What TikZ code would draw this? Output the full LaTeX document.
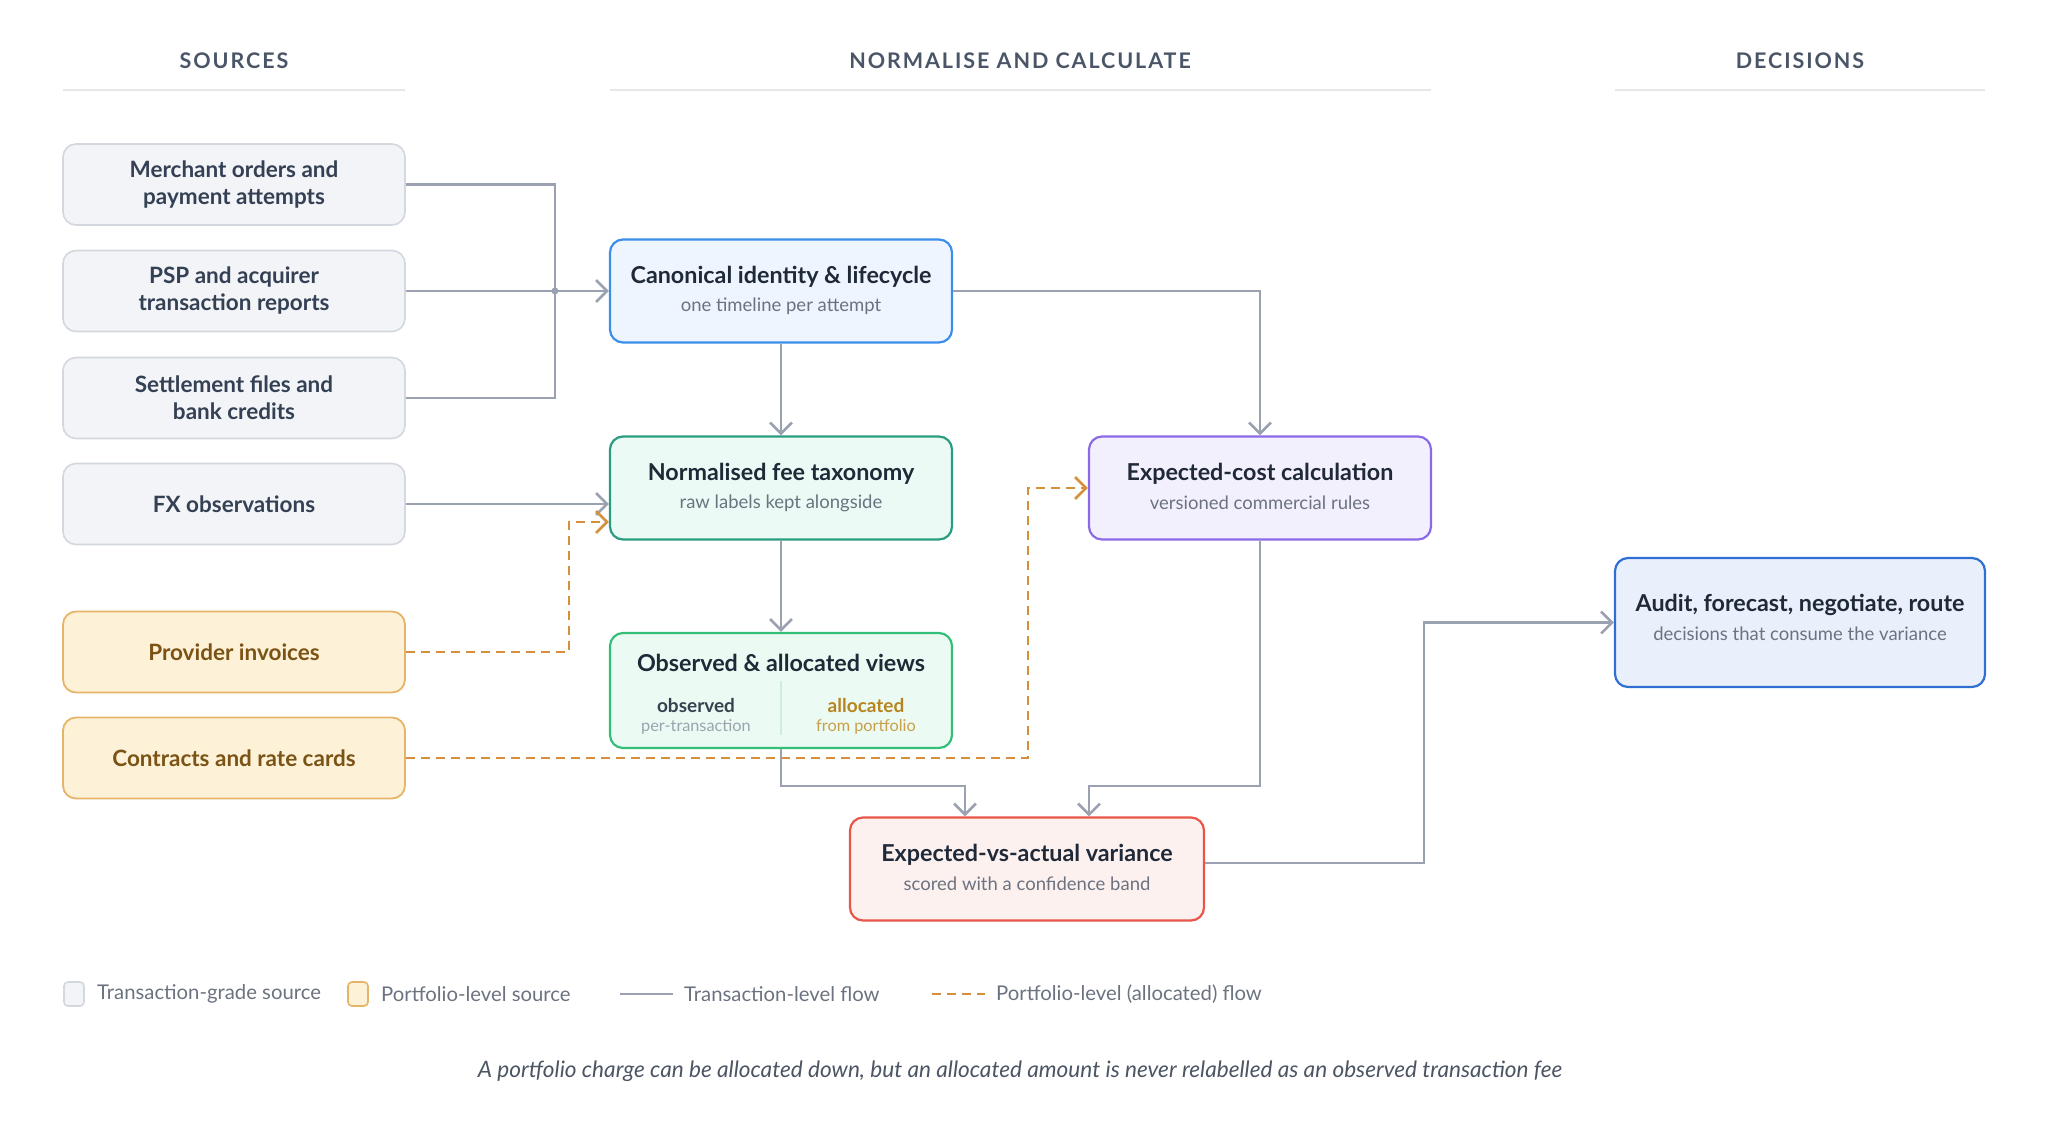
\documentclass[tikz,border=0pt]{standalone}
\usepackage{fontspec}
\setmainfont{Lato}
\usetikzlibrary{arrows.meta}
\definecolor{srcfill}{HTML}{F2F4F7}
\definecolor{srcdraw}{HTML}{D3D7DE}
\definecolor{srctext}{HTML}{344054}
\definecolor{pfill}{HTML}{FDF1D8}
\definecolor{pdraw}{HTML}{E5B468}
\definecolor{ptext}{HTML}{7A5315}
\definecolor{flowc}{HTML}{9AA1B1}
\definecolor{pflowc}{HTML}{D4903A}
\definecolor{ink}{HTML}{1F2937}
\definecolor{subc}{HTML}{6B7280}
\definecolor{headc}{HTML}{4A5568}
\definecolor{rulec}{HTML}{E5E7EB}
\definecolor{bluef}{HTML}{EEF5FF}\definecolor{blued}{HTML}{3B8EEA}
\definecolor{tealf}{HTML}{EBFAF5}\definecolor{teald}{HTML}{2A9D80}
\definecolor{greenf}{HTML}{EBFAF2}\definecolor{greend}{HTML}{34BF78}
\definecolor{purpf}{HTML}{F3F0FE}\definecolor{purpd}{HTML}{8B6AE6}
\definecolor{redf}{HTML}{FDF1F0}\definecolor{redd}{HTML}{E8554A}
\definecolor{audf}{HTML}{EAF0FB}\definecolor{audd}{HTML}{2F6FD4}
\definecolor{obsc}{HTML}{374151}\definecolor{obsl}{HTML}{9CA3AF}
\definecolor{allc}{HTML}{B7851F}\definecolor{alll}{HTML}{C9A04A}
\definecolor{footc}{HTML}{4B5563}
\newcommand{\mysrc}{\fontsize{22.5}{27}\selectfont\bfseries}
\newcommand{\myttl}{\fontsize{23.3}{27}\selectfont\bfseries}
\newcommand{\mysub}{\fontsize{18.5}{22}\selectfont}
\newcommand{\myhead}{\fontsize{21.5}{25}\selectfont\bfseries\addfontfeatures{LetterSpace=9}}
\newcommand{\myleg}{\fontsize{20.3}{24}\selectfont}
\tikzset{
  box/.style={rectangle, rounded corners=13pt, minimum width=342pt, minimum height=81pt, inner sep=0pt, align=center},
  srcbox/.style={box, fill=srcfill, draw=srcdraw, line width=1.6pt, text=srctext, font=\mysrc},
  pbox/.style={box, fill=pfill, draw=pdraw, line width=1.8pt, text=ptext, font=\mysrc},
  stage/.style={box, minimum height=103pt, line width=2.2pt},
  ttl/.style={inner sep=0pt, text=ink, font=\myttl},
  subt/.style={inner sep=0pt, text=subc, font=\mysub},
  head/.style={inner sep=0pt, text=headc, font=\myhead},
  hrule/.style={draw=rulec, line width=2pt},
  flowplain/.style={draw=flowc, line width=2.6pt},
  flow/.style={flowplain, -{Straight Barb[length=11pt,width=22pt]}},
  pflow/.style={draw=pflowc, line width=2.6pt, dash pattern=on 9pt off 6pt, -{Straight Barb[length=11pt,width=22pt]}},
  legt/.style={inner sep=0pt, anchor=west, text=subc, font=\myleg},
  legsq/.style={rectangle, rounded corners=4pt, minimum width=20pt, minimum height=24pt, inner sep=0pt, line width=1.6pt}
}
\begin{document}
\begin{tikzpicture}[x=1pt,y=-1pt]
\useasboundingbox (0,0) rectangle (2048,1128);
% headers
\node[head] (h1) at (234,61) {SOURCES};
\node[head] (h2) at (1020,61) {NORMALISE AND CALCULATE};
\node[head] (h3) at (1800,61) {DECISIONS};
\coordinate (r1a) at (63,90); \coordinate (r1b) at (405,90);
\coordinate (r2a) at (610,90); \coordinate (r2b) at (1431,90);
\coordinate (r3a) at (1615,90); \coordinate (r3b) at (1985,90);
\draw[hrule] (r1a) -- (r1b);
\draw[hrule] (r2a) -- (r2b);
\draw[hrule] (r3a) -- (r3b);
% sources
\node[srcbox] (merch) at (234,184.5) {Merchant orders and\\payment attempts};
\node[srcbox] (psp) at (234,291) {PSP and acquirer\\transaction reports};
\node[srcbox] (settle) at (234,398) {Settlement files and\\bank credits};
\node[srcbox] (fx) at (234,504) {FX observations};
\node[pbox] (prov) at (234,652) {Provider invoices};
\node[pbox] (contr) at (234,758) {Contracts and rate cards};
% stages
\node[stage, fill=bluef, draw=blued] (canon) at (781,291) {};
\node[ttl] (canon-t) at ([yshift=14pt]canon.center) {Canonical identity \& lifecycle};
\node[subt] (canon-s) at ([yshift=-15pt]canon.center) {one timeline per attempt};
\node[stage, fill=tealf, draw=teald] (norm) at (781,488) {};
\node[ttl] (norm-t) at ([yshift=14pt]norm.center) {Normalised fee taxonomy};
\node[subt] (norm-s) at ([yshift=-15pt]norm.center) {raw labels kept alongside};
\node[stage, fill=greenf, draw=greend, minimum height=115pt] (obs) at (781,690.5) {};
\node[ttl] (obs-t) at (781,663) {Observed \& allocated views};
\node[inner sep=0pt, text=obsc, font=\fontsize{19}{22}\selectfont\bfseries] (obs-a) at (696,706) {observed};
\node[inner sep=0pt, text=obsl, font=\fontsize{16.3}{19}\selectfont] (obs-b) at (696,727) {per-transaction};
\node[inner sep=0pt, text=allc, font=\fontsize{19}{22}\selectfont\bfseries] (all-a) at (866,706) {allocated};
\node[inner sep=0pt, text=alll, font=\fontsize{16.3}{19}\selectfont] (all-b) at (866,727) {from portfolio};
\coordinate (dv1) at (781,681); \coordinate (dv2) at (781,735);
\draw[draw=greend!25, line width=1.2pt] (dv1) -- (dv2);
\node[stage, fill=purpf, draw=purpd] (ecost) at (1260,488) {};
\node[ttl] (ecost-t) at ([yshift=14pt]ecost.center) {Expected-cost calculation};
\node[subt] (ecost-s) at ([yshift=-15pt]ecost.center) {versioned commercial rules};
\node[stage, fill=redf, draw=redd, minimum width=354pt] (var) at (1027,869) {};
\node[ttl] (var-t) at ([yshift=14pt]var.center) {Expected-vs-actual variance};
\node[subt] (var-s) at ([yshift=-15pt]var.center) {scored with a confidence band};
\node[stage, fill=audf, draw=audd, minimum width=370pt, minimum height=129pt] (aud) at (1800,622.5) {};
\node[ttl] (aud-t) at (1800,605) {Audit, forecast, negotiate, route};
\node[subt] (aud-s) at (1800,634) {decisions that consume the variance};
% connectors
\coordinate (junc) at (555,291);
\draw[flowplain] (merch.east) -| (junc);
\draw[flowplain] (settle.east) -| (junc);
\draw[flow] (psp.east) -- (canon.west);
\fill[flowc] (junc) circle (3.5pt);
\draw[flow] (fx.east) -- (fx.east -| norm.west);
\coordinate (p1) at (569,522);
\draw[pflow] (prov.east) -| (p1) -- (p1 -| norm.west);
\coordinate (c1) at (1028,488);
\draw[pflow] (contr.east) -| (c1) -- (ecost.west);
\draw[flow] (canon.east) -| (ecost.north);
\draw[flow] (canon.south) -- (norm.north);
\draw[flow] (norm.south) -- (obs.north);
\coordinate (v1) at (965,786);
\coordinate (v2) at (1089,786);
\draw[flow] (obs.south) |- (v1) -- (v1 |- var.north);
\draw[flow] (ecost.south) |- (v2) -- (v2 |- var.north);
\coordinate (a1) at (1424,622.5);
\coordinate (a0) at ([yshift=6pt]var.east);
\draw[flow] (a0) -| (a1) -- (aud.west);
% legend
\node[legsq, fill=srcfill, draw=srcdraw] (lg1) at (74,994) {};
\node[legt] (lt1) at (97,994) {Transaction-grade source};
\node[legsq, fill=pfill, draw=pdraw] (lg2) at (358,994) {};
\node[legt] (lt2) at (381,994) {Portfolio-level source};
\coordinate (l3a) at (620,994); \coordinate (l3b) at (673,994);
\draw[flowplain] (l3a) -- (l3b);
\node[legt] (lt3) at (684,994) {Transaction-level flow};
\coordinate (l4a) at (932,994); \coordinate (l4b) at (985,994);
\draw[draw=pflowc, line width=2.6pt, dash pattern=on 9pt off 6pt] (l4a) -- (l4b);
\node[legt] (lt4) at (996,994) {Portfolio-level (allocated) flow};
% footer
\node[inner sep=0pt, text=footc, font=\fontsize{22.6}{26}\selectfont\itshape] (foot) at (1020,1071) {A portfolio charge can be allocated down, but an allocated amount is never relabelled as an observed transaction fee};
\end{tikzpicture}
\end{document}
